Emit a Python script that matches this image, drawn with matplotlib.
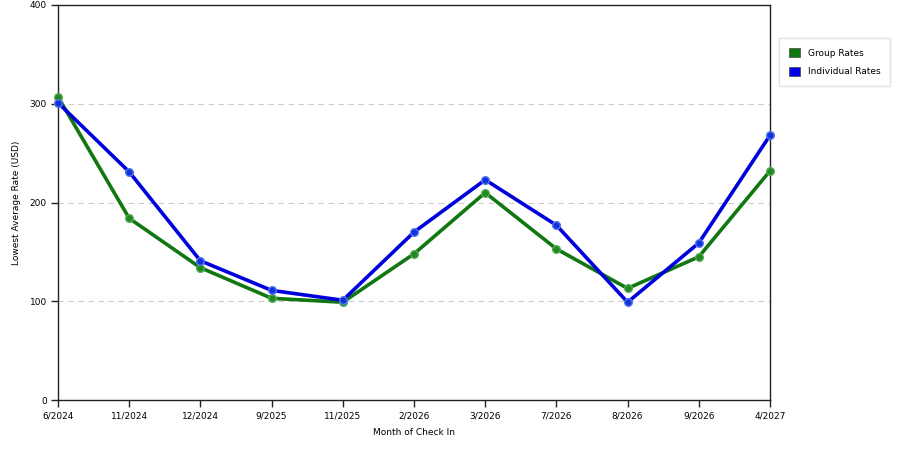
import matplotlib.pyplot as plt
from matplotlib.patches import Patch

# Data
months = ['6/2024', '11/2024', '12/2024', '9/2025', '11/2025', '2/2026',
          '3/2026', '7/2026', '8/2026', '9/2026', '4/2027']
group_rates = [307, 184, 134, 103, 99, 148, 210, 153, 113, 145, 232]
individual_rates = [301, 231, 141, 111, 101, 170, 223, 177, 99, 159, 268]
y_ticks = [0, 100, 200, 300, 400]

plt.rcParams['font.family'] = 'DejaVu Sans'

fig = plt.figure(figsize=(9, 4.5), dpi=100)
ax = fig.add_axes([58 / 900, 50 / 450, 712 / 900, 395 / 450])

x = list(range(len(months)))
ax.plot(x, group_rates, color='#117711', lw=2.6, marker='o', ms=5.5,
        mfc='#228822', mec='#55aa55', mew=1, zorder=3, clip_on=False)
ax.plot(x, individual_rates, color='#0000dd', lw=2.6, marker='o', ms=5.5,
        mfc='#1133dd', mec='#5577ee', mew=1, zorder=4, clip_on=False)

ax.set_xlim(0, len(months) - 1)
ax.set_ylim(0, 400)
ax.set_xticks(x)
ax.set_xticklabels(months, fontsize=6.5)
ax.set_yticks(y_ticks)
ax.set_yticklabels([str(v) for v in y_ticks], fontsize=6.5)
ax.tick_params(direction='out', length=5, width=1, color='#222222', pad=3)

# dashed guide lines
for v in y_ticks[1:-1]:
    ax.axhline(v, color='#cccccc', lw=0.8, ls=(0, (5, 4)), zorder=1)

for sp in ax.spines.values():
    sp.set_color('#222222')
    sp.set_linewidth(1)

ax.set_xlabel('Month of Check In', fontsize=6.5, labelpad=6)
ax.set_ylabel('Lowest Average Rate (USD)', fontsize=6.5, labelpad=6)

handles = [Patch(facecolor='#117711', edgecolor='#444444', lw=0.5),
           Patch(facecolor='#0000ee', edgecolor='#444444', lw=0.5)]
ax.legend(handles, ['Group Rates', 'Individual Rates'], loc='upper left',
          bbox_to_anchor=(779 / 900, 1 - 38 / 450),
          bbox_transform=fig.transFigure, borderaxespad=0, fontsize=6.5,
          frameon=True, fancybox=False, edgecolor='#dddddd',
          handlelength=1.2, handleheight=1.2, handletextpad=0.9,
          borderpad=1.1, labelspacing=1.0)

fig.savefig('out.png', dpi=100)
